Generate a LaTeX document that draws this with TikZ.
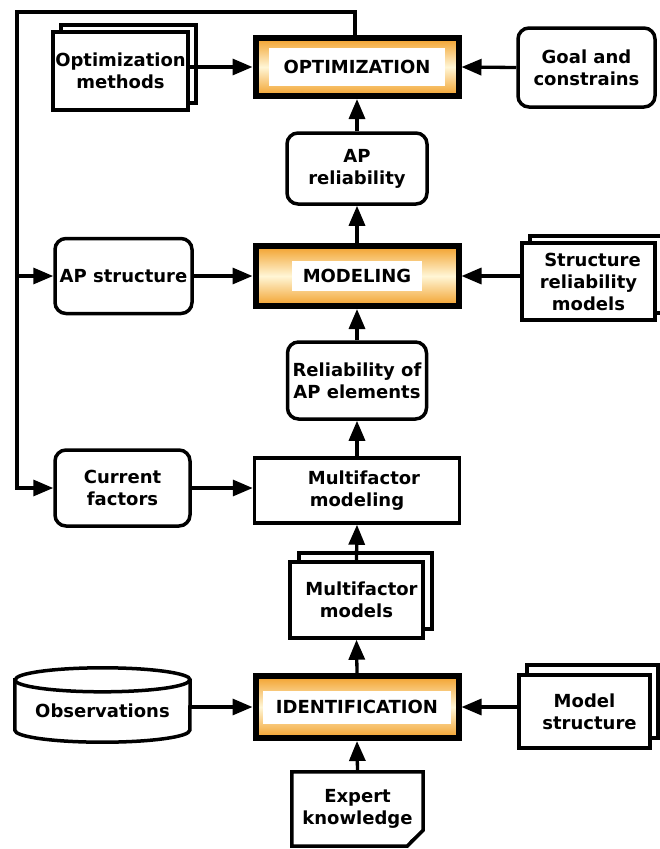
\documentclass[tikz,border=0pt]{standalone}
\usepackage{fontspec}
\setmainfont{DejaVu Sans}
\usetikzlibrary{arrows.meta,shadows,calc}
\definecolor{orng}{HTML}{F2A02A}
\definecolor{pale}{HTML}{FFF6D6}
\tikzset{
  txt/.style={font=\fontsize{18}{22}\selectfont\bfseries, align=center, text=black},
  plainbox/.style={txt, draw, line width=3.5pt, fill=white, inner sep=1pt},
  roundbox/.style={plainbox, rounded corners=11pt},
  docstack/.style={plainbox, copy shadow={shadow xshift=8pt, shadow yshift=7pt, line width=3.5pt, draw=black, fill=white}},
  core/.style={draw, line width=6pt, top color=orng, bottom color=orng, middle color=pale, minimum width=203pt, minimum height=58pt},
  corelbl/.style={txt, fill=white, inner sep=0pt},
  conn/.style={line width=3.3pt, -{Triangle[length=20pt,width=16pt]}},
}
\begin{document}
\begin{tikzpicture}[x=1pt,y=-1pt]
\useasboundingbox (0,0) rectangle (660,849);
% core boxes
\node[core] (opt) at (357,67) {};
\node[corelbl, minimum width=176pt, minimum height=38pt] (optl) at (opt) {OPTIMIZATION};
\node[core, minimum height=60pt] (mod) at (357,276) {};
\node[corelbl, minimum width=130pt, minimum height=30pt] (modl) at (mod) {MODELING};
\node[core, minimum height=62pt] (idn) at (357,707) {};
\node[corelbl, minimum width=188pt, minimum height=33pt] (idnl) at (idn) {IDENTIFICATION};
% side boxes
\node[docstack, minimum width=135pt, minimum height=78pt] (om) at (120.5,71) {Optimization\\methods};
\node[roundbox, minimum width=137pt, minimum height=79pt] (goal) at (586.5,67.5) {Goal and\\constrains};
\node[roundbox, minimum width=140pt, minimum height=71pt] (apr) at (357,168.5) {AP\\reliability};
\node[roundbox, minimum width=137pt, minimum height=75pt] (aps) at (123.5,276) {AP structure};
\node[docstack, minimum width=133pt, minimum height=77pt] (srm) at (588.5,281.5) {\hspace*{8pt}Structure\\reliability\\models};
\node[roundbox, minimum width=139pt, minimum height=77pt] (rel) at (357,380.5) {Reliability of\\AP elements};
\node[plainbox, minimum width=205pt, minimum height=65pt] (mfm) at (357,490.5) {\hspace*{14pt}Multifactor\\modeling};
\node[roundbox, minimum width=135pt, minimum height=76pt] (curr) at (122.5,488) {Current\\factors};
\node[plainbox, minimum width=133pt, minimum height=76pt, copy shadow={shadow xshift=9pt, shadow yshift=9pt, line width=3.5pt, draw=black, fill=white}] (mm) at (356.5,600) {\hspace*{10pt}Multifactor\\models};
\node[plainbox, minimum width=131pt, minimum height=73pt, copy shadow={shadow xshift=8pt, shadow yshift=10pt, line width=3.5pt, draw=black, fill=white}] (ms) at (584.5,711.5) {Model\\\hspace*{10pt}structure};
% observations cylinder
\node[minimum width=175pt, minimum height=74pt, inner sep=0pt] (obs) at (102.5,705) {};
\draw[line width=3.5pt, fill=white] ([yshift=-12pt]obs.north west) -- ([yshift=12pt]obs.south west)
  arc[start angle=180, end angle=360, x radius=87.5pt, y radius=12pt]
  -- ([yshift=-12pt]obs.north east)
  arc[start angle=0, end angle=180, x radius=87.5pt, y radius=12pt] -- cycle;
\draw[line width=3.5pt] ([yshift=-12pt]obs.north west) arc[start angle=180, end angle=360, x radius=87.5pt, y radius=12pt];
\node[txt] (obst) at ([yshift=-6pt]obs.center) {Observations};
% expert knowledge document
\node[txt, minimum width=131pt, minimum height=74pt] (ek) at (357.5,809) {Expert\\knowledge};
\draw[line width=3.5pt, line join=miter] (ek.north west) -- (ek.north east) -- ([yshift=16pt]ek.south east)
  -- ([xshift=-16pt]ek.south east) -- (ek.south west) -- cycle;
\fill ([yshift=16pt]ek.south east) -- ([xshift=-16pt]ek.south east) -- ([xshift=-13pt,yshift=6pt]ek.south east) -- cycle;
% connectors
\draw[conn] (om.east |- opt) -- (opt.west);
\draw[conn] (goal.west) -- (opt.east);
\draw[conn] (apr.north) -- (opt.south);
\draw[conn] (mod.north) -- (apr.south);
\draw[conn] (aps.east) -- (mod.west);
\draw[conn] (srm.west |- mod) -- (mod.east);
\draw[conn] (rel.north) -- (mod.south);
\draw[conn] (mfm.north) -- (rel.south);
\draw[conn] (curr.east) -- (mfm.west |- curr.east);
\draw[conn] (mm.north) -- (mfm.south);
\draw[conn] (idn.north) -- (mm.south);
\draw[conn] (obs.east |- idn) -- (idn.west);
\draw[conn] (ms.west |- idn) -- (idn.east);
\draw[conn] (ek.north) -- (idn.south);
% feedback loop
\coordinate (fb) at (17,12);
\draw[conn] ([xshift=-2pt]opt.north) |- (fb) |- (curr.west);
\draw[conn] (fb |- aps.west) -- (aps.west);
\end{tikzpicture}
\end{document}
